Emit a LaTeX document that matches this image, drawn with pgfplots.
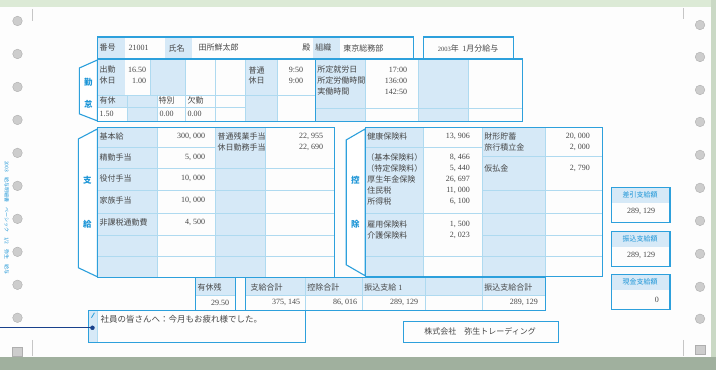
\documentclass[border=0pt]{standalone}
\usepackage{pgfplots}
\pgfplotsset{compat=1.18}
\usepackage{fontspec}
\setmainfont{Liberation Serif}
\newfontfamily\cjk{Noto Sans CJK JP}
\definecolor{frameblue}{RGB}{45,160,220}
\definecolor{lineblue}{RGB}{175,218,240}
\definecolor{shade}{RGB}{214,233,247}
\definecolor{paper}{RGB}{253,253,253}
\definecolor{topgreen}{RGB}{220,234,214}
\definecolor{botgreen}{RGB}{160,176,158}
\definecolor{holegray}{RGB}{205,205,205}
\definecolor{navy}{RGB}{25,65,140}
\definecolor{ink}{RGB}{70,70,70}
\definecolor{tabblue}{RGB}{30,150,215}
\pgfplotsset{
  frm/.style={draw=frameblue,line width=1.1pt,fill=none},
  thl/.style={draw=lineblue,line width=0.5pt},
  shd/.style={fill=shade,draw=none},
}
\newcommand{\R}[5]{\addplot[#5] coordinates {(#1,#2) (#3,#2) (#3,#4) (#1,#4)} --cycle;}
\newcommand{\HL}[3]{\addplot[thl] coordinates {(#1,#3) (#2,#3)};}
\newcommand{\VL}[3]{\addplot[thl] coordinates {(#1,#2) (#1,#3)};}
\newcommand{\T}[3]{\node[anchor=west,inner sep=0pt,text=ink] at (axis cs:#1,#2) {#3};}
\newcommand{\N}[3]{\node[anchor=east,inner sep=0pt,text=ink] at (axis cs:#1,#2) {#3};}
\newcommand{\C}[3]{\node[inner sep=0pt,text=ink] at (axis cs:#1,#2) {#3};}
\newcommand{\tb}[3]{\node[inner sep=0pt,text=tabblue,font=\cjk\fontsize{8.5}{9}\selectfont\bfseries] at (axis cs:#1,#2) {#3};}
\begin{document}
\begin{tikzpicture}[font=\fontsize{8}{9}\selectfont]
\begin{axis}[x=1pt,y=1pt,xmin=0,xmax=716,ymin=0,ymax=370,y dir=reverse,
  hide axis,clip=false,enlargelimits=false]
% paper and borders
\R{0}{0}{716}{370}{fill=paper,draw=none}
\R{0}{0}{716}{7}{fill=topgreen,draw=none}
\R{711}{0}{716}{370}{fill=topgreen!70!botgreen,draw=none}
\R{0}{357}{716}{370}{fill=botgreen,draw=none}
% sprocket holes
\addplot[only marks,mark=*,mark size=4.8pt,mark options={fill=holegray,draw=holegray!85!black}]
  coordinates {(17,21)(17,54)(17,87)(17,120)(17,153)(17,186)(17,219)(17,252)(17,285)(17,318)
               (700,25)(700,57)(700,90)(700,122)(700,155)(700,188)(700,221)(700,254)(700,287)(700,319)};
\addplot[only marks,mark=square*,mark size=4.8pt,mark options={fill=holegray,draw=holegray!85!black}]
  coordinates {(17,352)(700,350)};
\addplot[draw=gray!45,line width=0.5pt] coordinates {(32,9)(32,21)};
\addplot[draw=gray!45,line width=0.5pt] coordinates {(32,340)(32,356)};
\addplot[draw=gray!45,line width=0.5pt] coordinates {(683,8)(683,19)};
\addplot[draw=gray!45,line width=0.5pt] coordinates {(683,340)(683,356)};
\node[rotate=-90,text=tabblue,inner sep=0pt,font=\cjk\fontsize{5}{5}\selectfont] at (axis cs:6,218) {2003　給与明細書　ベーシック　1/2　弥生　給与};
% ===== header =====
\R{97}{37}{125}{59}{shd}
\R{165}{37}{192}{59}{shd}
\R{313}{37}{340}{59}{shd}
\R{97}{37}{413}{59}{frm}
\R{423}{37}{513}{59}{frm}
\T{99}{48}{\cjk 番号}
\T{128}{48}{21001}
\T{168}{48}{\cjk 氏名}
\T{198}{48}{\cjk 田所鮮太郎}
\T{302}{48}{\cjk 殿}
\T{315}{48}{\cjk 組織}
\T{343}{48}{\cjk 東京総務部}
\C{468}{48}{{\fontsize{6.5}{7}\selectfont 2003}{\cjk 年\ \ }1{\cjk 月分給与}}
% ===== attendance =====
\R{97}{59}{125}{95}{shd}
\R{150}{59}{185}{95}{shd}
\R{245}{59}{277}{122}{shd}
\R{97}{95}{127}{107}{shd}
\R{127}{95}{157}{122}{shd}
\R{315}{59}{365}{122}{shd}
\R{418}{59}{468}{122}{shd}
\HL{97}{315}{95}
\HL{97}{245}{107}
\HL{315}{522}{108}
\VL{127}{95}{122}
\VL{150}{59}{95}
\VL{157}{95}{122}
\VL{185}{59}{122}
\VL{215}{59}{122}
\VL{245}{59}{122}
\VL{277}{59}{122}
\VL{365}{59}{122}
\VL{418}{59}{122}
\VL{468}{59}{122}
\R{97}{59}{522}{122}{frm}
\addplot[frm] coordinates {(315,59)(315,122)};
\addplot[frm,fill=white] coordinates {(97,60)(79,68)(79,114)(97,121)} --cycle;
\tb{88}{82}{勤}
\tb{88}{104}{怠}
\T{99}{70}{\cjk 出勤}  \N{146}{70}{16.50}
\T{99}{81}{\cjk 休日}  \N{146}{81}{1.00}
\T{248}{70}{\cjk 普通} \N{303}{70}{9:50}
\T{248}{81}{\cjk 休日} \N{303}{81}{9:00}
\T{317}{70}{\cjk 所定就労日}   \N{407}{70}{17:00}
\T{317}{81}{\cjk 所定労働時間} \N{407}{81}{136:00}
\T{317}{92}{\cjk 実働時間}     \N{407}{92}{142:50}
\T{99}{101}{\cjk 有休}  \T{99}{114}{1.50}
\T{158}{101}{\cjk 特別} \T{159}{114}{0.00}
\T{187}{101}{\cjk 欠勤} \T{187}{114}{0.00}
% ===== payments =====
\R{97}{128}{157}{278}{shd}
\R{215}{128}{265}{278}{shd}
\HL{97}{215}{147}
\HL{97}{334}{168}
\HL{97}{334}{190}
\HL{97}{334}{213}
\HL{97}{334}{235}
\HL{97}{334}{256}
\VL{157}{128}{278}
\VL{215}{128}{278}
\VL{265}{128}{278}
\R{97}{128}{334}{278}{frm}
\addplot[frm,fill=white] coordinates {(97,129)(78,139)(78,268)(97,277)} --cycle;
\tb{87}{180}{支}
\tb{87}{224}{給}
\T{99}{137}{\cjk 基本給}       \N{205}{137}{300, 000}
\T{99}{158}{\cjk 精勤手当}     \N{205}{158}{5, 000}
\T{99}{179}{\cjk 役付手当}     \N{205}{179}{10, 000}
\T{99}{201}{\cjk 家族手当}     \N{205}{201}{10, 000}
\T{99}{223}{\cjk 非課税通勤費} \N{205}{223}{4, 500}
\T{217}{137}{\cjk 普通残業手当} \N{323}{137}{22, 955}
\T{217}{148}{\cjk 休日勤務手当} \N{323}{148}{22, 690}
% ===== deductions =====
\R{365}{128}{423}{277}{shd}
\R{482}{128}{545}{277}{shd}
\HL{365}{482}{147}
\HL{365}{482}{213}
\HL{482}{602}{156}
\HL{482}{602}{190}
\HL{482}{602}{213}
\HL{482}{602}{235}
\HL{365}{602}{256}
\VL{423}{128}{277}
\VL{482}{128}{277}
\VL{545}{128}{277}
\R{365}{128}{602}{277}{frm}
\addplot[frm,fill=white] coordinates {(365,129)(346,140)(346,265)(365,276)} --cycle;
\tb{355}{180}{控}
\tb{355}{224}{除}
\T{367}{137}{\cjk 健康保険料}     \N{470}{137}{13, 906}
\T{366}{158}{\cjk （基本保険料）} \N{470}{158}{8, 466}
\T{366}{169}{\cjk （特定保険料）} \N{470}{169}{5, 440}
\T{367}{180}{\cjk 厚生年金保険}   \N{470}{180}{26, 697}
\T{367}{191}{\cjk 住民税}         \N{470}{191}{11, 000}
\T{367}{202}{\cjk 所得税}         \N{470}{202}{6, 100}
\T{367}{225}{\cjk 雇用保険料}     \N{470}{225}{1, 500}
\T{367}{236}{\cjk 介護保険料}     \N{470}{236}{2, 023}
\T{484}{137}{\cjk 財形貯蓄}   \N{590}{137}{20, 000}
\T{484}{148}{\cjk 旅行積立金} \N{590}{148}{2, 000}
\T{484}{169}{\cjk 仮払金}     \N{590}{169}{2, 790}
% ===== totals =====
\R{195}{278}{235}{295}{shd}
\R{245}{278}{545}{295}{shd}
\HL{195}{235}{295}
\HL{245}{545}{295}
\VL{305}{278}{311}
\VL{362}{278}{311}
\VL{425}{278}{311}
\VL{482}{278}{311}
\R{195}{278}{235}{311}{frm}
\R{245}{278}{545}{311}{frm}
\T{197}{288}{\cjk 有休残}     \N{229}{303}{29.50}
\T{250}{288}{\cjk 支給合計}   \N{300}{303}{375, 145}
\T{307}{288}{\cjk 控除合計}   \N{357}{303}{86, 016}
\T{364}{288}{{\cjk 振込支給} 1} \N{418}{303}{289, 129}
\T{484}{288}{\cjk 振込支給合計} \N{538}{303}{289, 129}
% ===== comment =====
\R{88}{311}{97}{343}{shd}
\VL{97}{311}{343}
\R{88}{311}{305}{343}{frm}
\addplot[draw=frameblue,line width=0.8pt] coordinates {(91,318)(94,313)};
\addplot[draw=navy,line width=1pt] coordinates {(0,328)(92,328)};
\addplot[only marks,mark=*,mark size=2pt,mark options={fill=navy,draw=navy}] coordinates {(92,328)};
\T{100}{319}{\cjk\fontsize{8.5}{9}\selectfont 社員の皆さんへ：今月もお疲れ様でした。}
% ===== company =====
\R{403}{322}{558}{343}{frm}
\C{480}{332}{\cjk 株式会社　弥生トレーディング}
% ===== right summary boxes =====
\R{611}{188}{670}{203}{shd}
\R{611}{188}{670}{223}{frm}
\node[inner sep=0pt,text=tabblue,font=\cjk\fontsize{7}{7}\selectfont] at (axis cs:640,195) {差引支給額};
\C{641}{212}{289, 129}
\R{611}{232}{670}{247}{shd}
\R{611}{232}{670}{267}{frm}
\node[inner sep=0pt,text=tabblue,font=\cjk\fontsize{7}{7}\selectfont] at (axis cs:640,239) {振込支給額};
\C{641}{256}{289, 129}
\R{611}{275}{670}{290}{shd}
\R{611}{275}{670}{310}{frm}
\node[inner sep=0pt,text=tabblue,font=\cjk\fontsize{7}{7}\selectfont] at (axis cs:640,282) {現金支給額};
\N{659}{300}{0}
\end{axis}
\end{tikzpicture}
\end{document}
